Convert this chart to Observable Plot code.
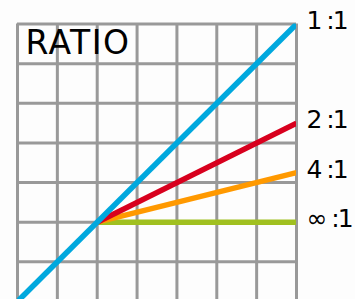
<!DOCTYPE html>
<html>
<head>
<meta charset="utf-8">
<script src="https://cdn.jsdelivr.net/npm/d3@7"></script>
<script src="https://cdn.jsdelivr.net/npm/@observablehq/plot@0.6"></script>
<style>
  html, body { margin: 0; padding: 0; background: #fdfdfd; }
  svg { display: block; }
  .ratio-label text { letter-spacing: -2px; }
  .ratio-title text { letter-spacing: 1.5px; }
</style>
</head>
<body>
<div id="chart"></div>
<script>
// Compression ratio transfer curves (input level vs output level, grid units)
const labels = ["1 :1", "2 :1", "4 :1", "∞ :1"];
const startX = [0, 2, 2, 2];
const startY = [0, 2, 2, 2];
const endX = [7, 7, 7, 7];
const endY = [7, 4.5, 3.25, 2];
const colors = ["#00a8de", "#d8001e", "#ff9900", "#a0c020"];
const gridX = [0, 1, 2, 3, 4, 5, 6, 7];
const gridY = [1, 2, 3, 4, 5, 6, 7];
const title = "RATIO";

const segs = labels.map((l, i) => ({
  label: l, x1: startX[i], y1: startY[i], x2: endX[i], y2: endY[i], color: colors[i]
}));
// draw order: green, orange, red, blue (blue on top)
const drawOrder = [3, 2, 1, 0].map(i => segs[i]);

const plot = Plot.plot({
  width: 355,
  height: 299,
  marginLeft: 17,
  marginRight: 59,
  marginTop: 23.5,
  marginBottom: 0,
  style: { background: "#fdfdfd", overflow: "hidden" },
  x: { domain: [0, 7], axis: null },
  y: { domain: [0.05, 7], axis: null },
  marks: [
    Plot.ruleX(gridX, { stroke: "#999999", strokeWidth: 3 }),
    Plot.ruleY(gridY, { stroke: "#999999", strokeWidth: 3 }),
    Plot.link(drawOrder, {
      x1: "x1", y1: "y1", x2: "x2", y2: "y2",
      stroke: "color", strokeWidth: 5.5, strokeLinecap: "butt", clip: true
    }),
    Plot.text(segs, {
      x: "x2", y: "y2", text: "label", textAnchor: "start",
      dx: 10, dy: -3,
      fontSize: 25, fill: "black",
      className: "ratio-label",
      fontFamily: "'DejaVu Sans', sans-serif"
    }),
    Plot.text([title], {
      frameAnchor: "top-left", textAnchor: "start", lineAnchor: "top",
      dx: 8, dy: 6.5,
      fontSize: 33, fill: "black",
      className: "ratio-title",
      fontFamily: "'DejaVu Sans', sans-serif"
    })
  ]
});
document.getElementById("chart").appendChild(plot);
</script>
</body>
</html>
